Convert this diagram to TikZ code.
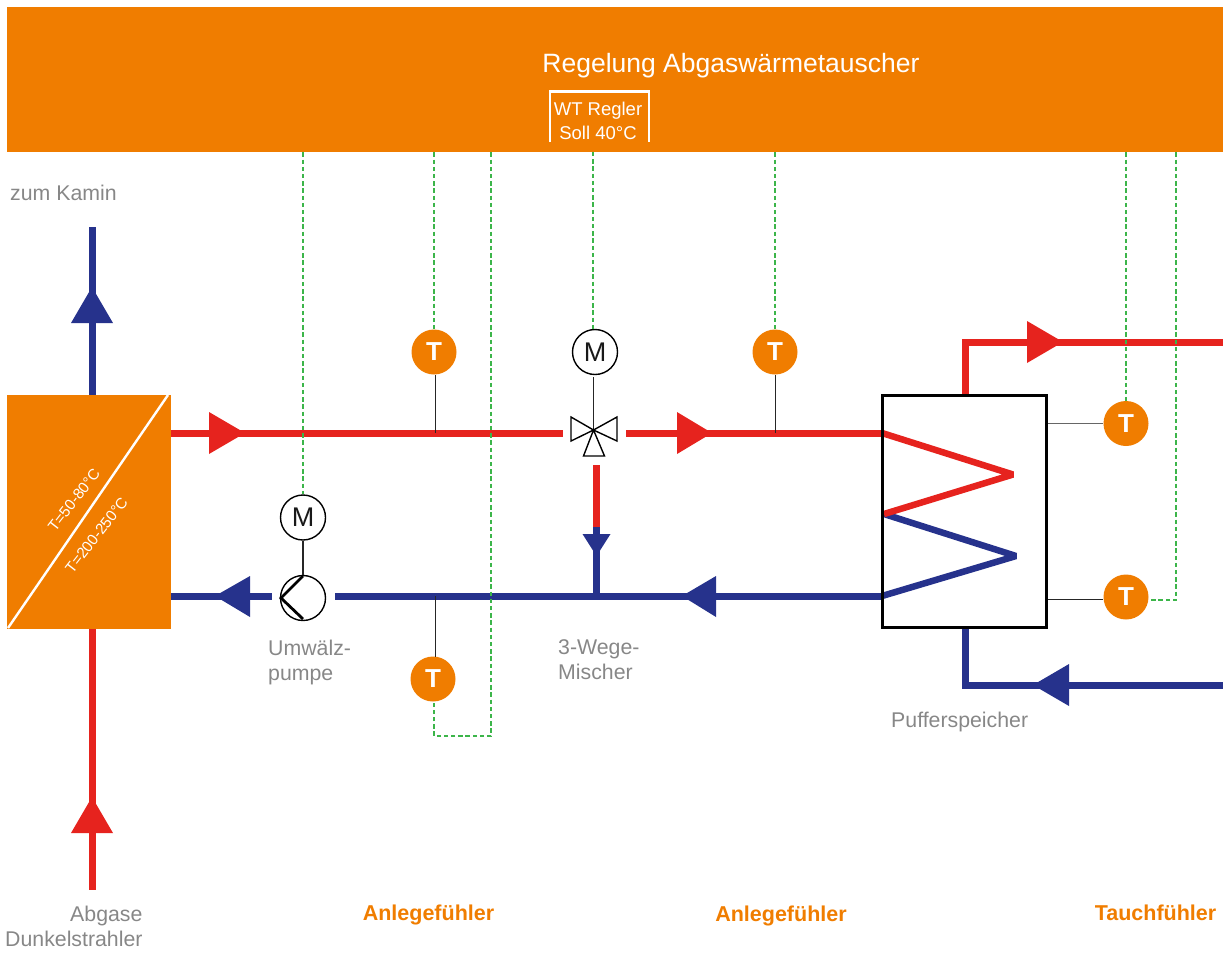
\documentclass[tikz,border=0pt]{standalone}
\usepackage{fontspec}
\setmainfont{Liberation Sans}
\definecolor{orangeF}{HTML}{F07D00}
\definecolor{pipeRed}{HTML}{E6231E}
\definecolor{pipeBlue}{HTML}{26328C}
\definecolor{sigGreen}{HTML}{3CB54A}
\definecolor{labelGrey}{HTML}{878787}
\newcommand{\fsz}[1]{\fontsize{#1}{#1}\selectfont}
\tikzset{
  hot/.style={draw=pipeRed,line width=7pt},
  cold/.style={draw=pipeBlue,line width=7pt},
  sig/.style={draw=sigGreen,line width=1.2pt,dash pattern=on 4.4pt off 2.8pt},
  thinlink/.style={draw=black!85,line width=0.9pt},
  sensor/.style={circle,fill=orangeF,minimum size=45pt,inner sep=0pt,text=white,font=\fsz{26}\bfseries},
  motor/.style={circle,draw=black,line width=1.4pt,fill=white,minimum size=45pt,inner sep=0pt,text=black!90,font=\fsz{27}},
  lab/.style={anchor=base west,inner sep=0pt,text=labelGrey,font=\fsz{21.3}},
  tag/.style={anchor=base,inner sep=0pt,text=orangeF,font=\fsz{21.5}\bfseries},
  rot/.style={inner sep=0pt,text=white,font=\fsz{15.2},rotate=52},
  valvept/.style={inner sep=0pt,minimum size=0pt}
}
\begin{document}
\begin{tikzpicture}[x=1pt,y=-1pt]
\useasboundingbox (0,0) rectangle (1225,956);
% control bar
\node[fill=orangeF,minimum width=1216pt,minimum height=145pt,inner sep=0pt,anchor=north west] (bar) at (7,7) {};
\node[anchor=base,inner sep=0pt,text=white,font=\fsz{26.5}] (title) at (731,72) {Regelung Abgaswärmetauscher};
\draw[white,line width=2.4pt] (550,142) -- (550,91.5) -- (649,91.5) -- (649,142);
\node[anchor=base,inner sep=0pt,text=white,font=\fsz{18.5}] (reg1) at (598,115) {WT Regler};
\node[anchor=base,inner sep=0pt,text=white,font=\fsz{18.5}] (reg2) at (598,139) {Soll 40°C};
% exchanger
\node[fill=orangeF,minimum width=164pt,minimum height=234pt,inner sep=0pt,anchor=north west] (hx) at (7,395) {};
\coordinate (stackTop) at (92,227);
\coordinate (flueIn) at (92,890);
\coordinate (hxHot) at (171,433);
\coordinate (hxCold) at (171,596);
% storage tank
\coordinate (tankHot) at (882,433);
\coordinate (tankCold) at (882,596);
\coordinate (coilA) at (1013,474.5);
\coordinate (coilM) at (884,514);
\coordinate (coilB) at (1016,556);
\coordinate (tankOutB) at (965,396);
\coordinate (tankOutC) at (965,342);
\coordinate (tankOutE) at (1223,342);
\coordinate (tankInB) at (965,628);
\coordinate (tankInC) at (965,685);
\coordinate (tankInE) at (1223,685);
\coordinate (mixL) at (563,433);
\coordinate (mixR) at (626,433);
\coordinate (mixD) at (596.5,465);
\coordinate (mixJ) at (596.5,527);
\coordinate (mixT) at (596.5,596);
\coordinate (pumpL) at (272,596);
\coordinate (pumpR) at (335,596);
% pipes
\draw[cold] (stackTop) -- (92,395);
\draw[hot] (92,629) -- (flueIn);
\draw[hot] (hxHot) -- (mixL);
\draw[hot] (mixR) -- (tankHot);
\draw[hot] (mixD) -- (mixJ);
\draw[cold] (mixJ) -- (mixT);
\draw[cold] (hxCold) -- (pumpL);
\draw[cold] (pumpR) -- (tankCold);
\draw[hot,line join=miter] (tankOutB) -- (tankOutC) -- (tankOutE);
\draw[cold,line join=miter] (tankInB) -- (tankInC) -- (tankInE);
\draw[cold,line width=6.5pt,line join=bevel] (coilM) -- (coilB) -- (tankCold);
\draw[hot,line width=6.5pt,line join=bevel] (tankHot) -- (coilA) -- (coilM);
\node[draw=black,line width=3pt,minimum width=164pt,minimum height=231.5pt,inner sep=0pt,anchor=north west] (tank) at (881,394) {};
% arrowheads
\fill[pipeBlue] (92,287) -- (71,323) -- (113,323) -- cycle;
\fill[pipeRed] (92,797) -- (71,833) -- (113,833) -- cycle;
\fill[pipeRed] (245,433) -- (209,412) -- (209,454) -- cycle;
\fill[pipeRed] (712,433) -- (677,412) -- (677,454) -- cycle;
\fill[pipeRed] (1063,342) -- (1027,321) -- (1027,363) -- cycle;
\fill[pipeBlue] (215,596) -- (250,576) -- (250,617) -- cycle;
\fill[pipeBlue] (682,596) -- (716,576) -- (716,617) -- cycle;
\fill[pipeBlue] (1033,685) -- (1069,664) -- (1069,706) -- cycle;
\fill[pipeBlue] (596.5,556) -- (582.5,534) -- (610.5,534) -- cycle;
% exchanger diagonal and labels
\draw[white,line width=2.4pt] (168,395) -- (8,628);
\node[rot] (t1) at (74,500) {T=50-80°C};
\node[rot] (t2) at (96.5,535) {T=200-250°C};
% mixer
\node[motor] (mM) at (595,352) {M};
\node[valvept] (valve) at (593.5,430) {};
\coordinate (mMfoot) at (593.5,377);
\draw[thinlink,line width=1.1pt] (mMfoot) -- (valve.center);
\draw[black,line width=1.4pt,line join=miter] (valve.center) -- (571,417) -- (571,441) -- cycle;
\draw[black,line width=1.4pt,line join=miter] (valve.center) -- (617,417) -- (617,441) -- cycle;
\draw[black,line width=1.4pt,line join=miter] (valve.center) -- (583.5,456) -- (604.5,456) -- cycle;
% pump
\node[motor] (pM) at (303,517.5) {M};
\node[motor] (pump) at (303,598) {};
\draw[thinlink,line width=1.1pt] (pM) -- (pump);
\draw[black,line width=2.8pt,line join=miter] (303,576) -- (281,598) -- (303,619);
% sensors
\node[sensor] (s1) at (434,352) {T};
\node[sensor] (s2) at (775,352) {T};
\node[sensor] (s3) at (433,679) {T};
\node[sensor] (s4) at (1126,423.5) {T};
\node[sensor] (s5) at (1126,597) {T};
\coordinate (p1) at (435,433);
\coordinate (p2) at (775.5,433);
\coordinate (p3) at (435,596);
\coordinate (w4) at (1048,423);
\coordinate (w5) at (1048,599);
\draw[thinlink] (435,375) -- (p1);
\draw[thinlink] (775.5,375) -- (p2);
\draw[thinlink] (p3) -- (435,657);
\draw[thinlink,draw=black!60] (w4) -- (1103,423);
\draw[thinlink] (w5) -- (1103,599);
% signal lines
\coordinate (k5) at (1176,600);
\coordinate (k3) at (491,736);
\coordinate (k3b) at (434,736);
\draw[sig] (pM.north |- bar.south) -- (pM.north);
\draw[sig] (s1.north |- bar.south) -- (s1.north);
\draw[sig] (593,152) -- (593,329);
\draw[sig] (s2.north |- bar.south) -- (s2.north);
\draw[sig] (s4.north |- bar.south) -- (s4.north);
\draw[sig] (k5 |- bar.south) -- (k5) -- (k5 -| s5.east);
\draw[sig] (k3 |- bar.south) -- (k3) -- (k3b) -- (434,701);
% labels
\node[lab] (l1) at (10,200) {zum Kamin};
\node[lab] (l2) at (268,655) {Umwälz-};
\node[lab] (l3) at (268,680) {pumpe};
\node[lab] (l4) at (558,654) {3-Wege-};
\node[lab] (l5) at (558,679) {Mischer};
\node[lab] (l6) at (891,727) {Pufferspeicher};
\node[lab] (l7) at (70,921) {Abgase};
\node[lab] (l8) at (5,946) {Dunkelstrahler};
\node[tag] (a1) at (428.5,920) {Anlegefühler};
\node[tag] (a2) at (781,921) {Anlegefühler};
\node[tag] (a3) at (1155.5,920) {Tauchfühler};
\end{tikzpicture}
\end{document}
